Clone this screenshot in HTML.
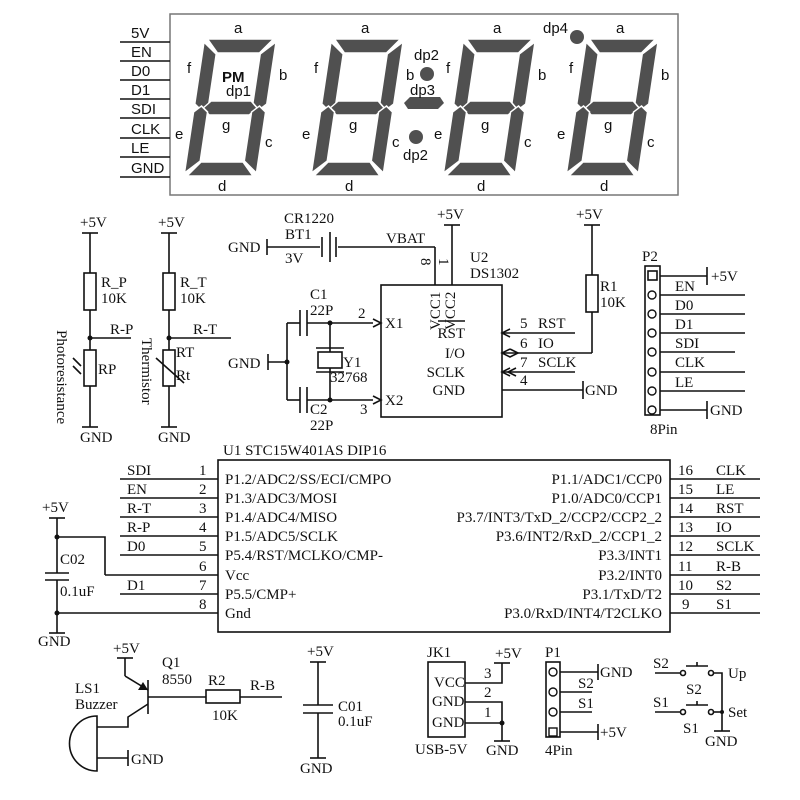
<!DOCTYPE html>
<html><head><meta charset="utf-8"><style>
html,body{margin:0;padding:0;background:#fff;}
svg{display:block;}
.s{font-family:"Liberation Serif",serif;font-size:15px;fill:#111;}
.a{font-family:"Liberation Sans",sans-serif;font-size:15px;fill:#111;}
line,polyline,path,rect.w,circle.w{stroke:#111;stroke-width:1.6;fill:none;}
</style></head><body>
<svg width="800" height="800" viewBox="0 0 800 800" xmlns="http://www.w3.org/2000/svg">
<defs>
<g id="dg" fill="#505050" stroke="#fff" stroke-width="1.5">
<polygon points="3,-137 69,-137 57,-123 15,-123"/>
<polygon points="72,-134 72,-72 65,-66 58,-72 58,-122"/>
<polygon points="0,-134 14,-122 14,-72 7,-66 0,-72"/>
<polygon points="9,-68 16,-75 56,-75 63,-68 56,-61 16,-61"/>
<polygon points="0,-64 7,-70 14,-64 14,-15 0,-3"/>
<polygon points="72,-64 65,-70 58,-64 58,-15 72,-3"/>
<polygon points="3,0 15,-14 57,-14 69,0"/>
</g>
<g id="lb" class="a">
<text x="50" y="33">a</text><text x="3" y="73">f</text><text x="95" y="80">b</text>
<text x="38" y="130">g</text><text x="-9" y="139">e</text><text x="81" y="147">c</text><text x="34" y="191">d</text>
</g>
</defs>

<!-- top display -->
<rect x="170" y="14" width="508" height="181" fill="none" stroke="#777" stroke-width="1.5"/>
<g stroke="#555" stroke-width="1.2">
<line x1="120" y1="42" x2="170" y2="42"/><line x1="120" y1="61" x2="170" y2="61"/><line x1="120" y1="80" x2="170" y2="80"/><line x1="120" y1="99" x2="170" y2="99"/><line x1="120" y1="118" x2="170" y2="118"/><line x1="120" y1="138" x2="170" y2="138"/><line x1="120" y1="157" x2="170" y2="157"/><line x1="120" y1="177" x2="170" y2="177"/>
</g>
<g class="a" font-size="14">
<text x="131" y="38">5V</text><text x="131" y="57">EN</text><text x="131" y="76">D0</text><text x="131" y="95">D1</text><text x="131" y="114">SDI</text><text x="131" y="134">CLK</text><text x="131" y="153">LE</text><text x="131" y="173">GND</text>
</g>
<use href="#dg" transform="translate(184,176) skewX(-8.5)"/>
<use href="#dg" transform="translate(311,176) skewX(-8.5)"/>
<use href="#dg" transform="translate(443,176) skewX(-8.5)"/>
<use href="#dg" transform="translate(566,176) skewX(-8.5)"/>
<use href="#lb" transform="translate(184,0)"/>
<use href="#lb" transform="translate(311,0)"/>
<use href="#lb" transform="translate(443,0)"/>
<use href="#lb" transform="translate(566,0)"/>
<text class="a" x="222" y="82" font-weight="bold" font-size="16" fill="#505050">PM</text>
<text class="a" x="226" y="96" font-size="12">dp1</text>
<circle cx="427" cy="74" r="7" fill="#505050"/>
<text class="a" x="414" y="60" font-size="12">dp2</text>
<polygon points="404,103 410,97 440,97 444,103 438,109 408,109" fill="#505050"/>
<text class="a" x="410" y="95" font-size="12">dp3</text>
<circle cx="416" cy="137" r="7" fill="#505050"/>
<text class="a" x="403" y="160" font-size="12">dp2</text>
<circle cx="577" cy="37" r="7" fill="#505050"/>
<text class="a" x="543" y="33" font-size="12">dp4</text>

<!-- photoresistor / thermistor -->
<line x1="82" y1="233" x2="98" y2="233"/><line x1="90" y1="233" x2="90" y2="273"/>
<rect class="w" x="84" y="273" width="12" height="37"/>
<line x1="90" y1="310" x2="90" y2="350"/><line x1="90" y1="338" x2="131" y2="338"/><circle cx="90" cy="338" r="2.5" fill="#111"/>
<rect class="w" x="84" y="350" width="12" height="36"/>
<line x1="90" y1="386" x2="90" y2="427"/><line x1="82" y1="427" x2="98" y2="427"/>
<line x1="73" y1="358" x2="81" y2="366"/><line x1="73" y1="366" x2="81" y2="374"/>
<text class="s" x="80" y="227">+5V</text><text class="s" x="101" y="287">R_P</text><text class="s" x="101" y="303">10K</text>
<text class="s" x="110" y="334">R-P</text><text class="s" x="98" y="374">RP</text><text class="s" x="80" y="442">GND</text>
<text class="s" transform="translate(57,330) rotate(90)">Photoresistance</text>
<line x1="161" y1="233" x2="177" y2="233"/><line x1="169" y1="233" x2="169" y2="273"/>
<rect class="w" x="163" y="273" width="12" height="37"/>
<line x1="169" y1="310" x2="169" y2="350"/><line x1="169" y1="338" x2="231" y2="338"/><circle cx="169" cy="338" r="2.5" fill="#111"/>
<rect class="w" x="163" y="350" width="12" height="36"/>
<line x1="156" y1="358" x2="184" y2="383"/>
<line x1="169" y1="386" x2="169" y2="427"/><line x1="161" y1="427" x2="177" y2="427"/>
<text class="s" x="158" y="227">+5V</text><text class="s" x="180" y="287">R_T</text><text class="s" x="180" y="303">10K</text>
<text class="s" x="193" y="334">R-T</text><text class="s" x="176" y="357">RT</text><text class="s" x="176" y="380" font-size="11">Rt</text><text class="s" x="158" y="442">GND</text>
<text class="s" transform="translate(142,338) rotate(90)">Thermistor</text>

<!-- battery and DS1302 -->
<text class="s" x="228" y="252">GND</text>
<line x1="267" y1="239" x2="267" y2="255"/><line x1="267" y1="247" x2="320" y2="247"/>
<line x1="322" y1="237" x2="322" y2="257"/><line x1="330" y1="232" x2="330" y2="262" stroke-width="2"/><line x1="336" y1="237" x2="336" y2="257"/>
<line x1="338" y1="247" x2="435" y2="247"/><line x1="435" y1="247" x2="435" y2="285"/>
<text class="s" x="284" y="223">CR1220</text><text class="s" x="285" y="239">BT1</text><text class="s" x="285" y="263">3V</text><text class="s" x="386" y="243">VBAT</text>
<line x1="444" y1="225" x2="460" y2="225"/><line x1="452" y1="225" x2="452" y2="285"/>
<text class="s" x="437" y="219">+5V</text>
<text class="s" transform="translate(421,258) rotate(90)" font-size="13">8</text>
<text class="s" transform="translate(439,258) rotate(90)" font-size="13">1</text>
<rect class="w" x="381" y="285" width="121" height="132"/>
<text class="s" x="470" y="262">U2</text><text class="s" x="470" y="278">DS1302</text>
<text class="s" transform="translate(440,330) rotate(-90)">VCC1</text>
<text class="s" transform="translate(455,330) rotate(-90)">VCC2</text>
<line x1="330" y1="323" x2="373" y2="323"/><polyline points="373,319 381,323 373,327" fill="none"/>
<line x1="330" y1="400" x2="373" y2="400"/><polyline points="373,396 381,400 373,404" fill="none"/>
<text class="s" x="385" y="328">X1</text><text class="s" x="385" y="405">X2</text>
<text class="s" x="358" y="318">2</text><text class="s" x="360" y="414">3</text>
<line x1="287" y1="323" x2="300" y2="323"/><line x1="300" y1="310" x2="300" y2="336"/><line x1="307" y1="310" x2="307" y2="336"/><line x1="307" y1="323" x2="330" y2="323"/>
<line x1="287" y1="400" x2="300" y2="400"/><line x1="300" y1="387" x2="300" y2="413"/><line x1="307" y1="387" x2="307" y2="413"/><line x1="307" y1="400" x2="330" y2="400"/>
<line x1="287" y1="323" x2="287" y2="400"/>
<line x1="330" y1="323" x2="330" y2="400"/>
<circle cx="330" cy="323" r="2.5" fill="#111"/><circle cx="330" cy="400" r="2.5" fill="#111"/><circle cx="287" cy="362" r="2.5" fill="#111"/>
<rect x="318" y="352" width="24" height="16" fill="#fff" stroke="#111" stroke-width="1.6"/>
<line x1="316" y1="348" x2="344" y2="348"/><line x1="316" y1="372" x2="344" y2="372"/>
<text class="s" x="228" y="368">GND</text><line x1="268" y1="354" x2="268" y2="370"/><line x1="268" y1="362" x2="287" y2="362"/>
<text class="s" x="310" y="299">C1</text><text class="s" x="310" y="315">22P</text>
<text class="s" x="310" y="414">C2</text><text class="s" x="310" y="430">22P</text>
<text class="s" x="343" y="367">Y1</text><text class="s" x="330" y="382">32768</text>
<line x1="438" y1="321" x2="465" y2="321" stroke-width="1.2"/>
<text class="s" x="465" y="338" text-anchor="end">RST</text><text class="s" x="465" y="358" text-anchor="end">I/O</text>
<text class="s" x="465" y="377" text-anchor="end">SCLK</text><text class="s" x="465" y="395" text-anchor="end">GND</text>
<line x1="502" y1="333" x2="575" y2="333"/><polyline points="510,329 502,333 510,337" fill="none"/>
<line x1="502" y1="353" x2="592" y2="353"/><polyline points="510,349 502,353 510,357 518,353 510,349" fill="none"/>
<line x1="502" y1="372" x2="575" y2="372"/><polyline points="510,368 502,372 510,376" fill="none"/><polyline points="516,368 508,372 516,376" fill="none"/>
<line x1="502" y1="390" x2="583" y2="390"/><line x1="583" y1="381" x2="583" y2="399"/>
<text class="s" x="520" y="328">5</text><text class="s" x="538" y="328">RST</text>
<text class="s" x="520" y="348">6</text><text class="s" x="538" y="348">IO</text>
<text class="s" x="520" y="367">7</text><text class="s" x="538" y="367">SCLK</text>
<text class="s" x="520" y="385">4</text><text class="s" x="585" y="395">GND</text>
<line x1="584" y1="225" x2="600" y2="225"/><line x1="592" y1="225" x2="592" y2="275"/>
<rect class="w" x="586" y="275" width="12" height="37"/><line x1="592" y1="312" x2="592" y2="353"/>
<text class="s" x="576" y="219">+5V</text><text class="s" x="600" y="291">R1</text><text class="s" x="600" y="307">10K</text>

<!-- P2 -->
<rect class="w" x="645" y="266" width="15" height="149"/>
<rect class="w" x="648" y="271" width="9" height="9"/>
<g fill="none" stroke="#111" stroke-width="1.4">
<circle cx="652" cy="295" r="4"/><circle cx="652" cy="314" r="4"/><circle cx="652" cy="333" r="4"/><circle cx="652" cy="352" r="4"/><circle cx="652" cy="372" r="4"/><circle cx="652" cy="391" r="4"/><circle cx="652" cy="410" r="4"/>
</g>
<line x1="660" y1="276" x2="707" y2="276"/><line x1="707" y1="267" x2="707" y2="285"/>
<line x1="660" y1="295" x2="745" y2="295"/><line x1="660" y1="314" x2="745" y2="314"/><line x1="660" y1="333" x2="745" y2="333"/>
<line x1="660" y1="352" x2="735" y2="352"/><line x1="660" y1="372" x2="745" y2="372"/><line x1="660" y1="391" x2="745" y2="391"/>
<line x1="660" y1="410" x2="707" y2="410"/><line x1="707" y1="401" x2="707" y2="419"/>
<text class="s" x="642" y="261">P2</text><text class="s" x="650" y="434">8Pin</text>
<text class="s" x="711" y="281">+5V</text><text class="s" x="710" y="415">GND</text>
<g class="s"><text x="675" y="291">EN</text><text x="675" y="310">D0</text><text x="675" y="329">D1</text><text x="675" y="348">SDI</text><text x="675" y="367">CLK</text><text x="675" y="387">LE</text></g>

<!-- U1 -->
<text class="s" x="223" y="455">U1  STC15W401AS   DIP16</text>
<rect class="w" x="218" y="460" width="452" height="172"/>
<g class="s" font-size="14">
<text x="225" y="484">P1.2/ADC2/SS/ECI/CMPO</text><text x="225" y="503">P1.3/ADC3/MOSI</text><text x="225" y="522">P1.4/ADC4/MISO</text><text x="225" y="541">P1.5/ADC5/SCLK</text><text x="225" y="560">P5.4/RST/MCLKO/CMP-</text><text x="225" y="580">Vcc</text><text x="225" y="599">P5.5/CMP+</text><text x="225" y="618">Gnd</text>
</g>
<g class="s" font-size="14" text-anchor="end">
<text x="662" y="484">P1.1/ADC1/CCP0</text><text x="662" y="503">P1.0/ADC0/CCP1</text><text x="662" y="522">P3.7/INT3/TxD_2/CCP2/CCP2_2</text><text x="662" y="541">P3.6/INT2/RxD_2/CCP1_2</text><text x="662" y="560">P3.3/INT1</text><text x="662" y="580">P3.2/INT0</text><text x="662" y="599">P3.1/TxD/T2</text><text x="662" y="618">P3.0/RxD/INT4/T2CLKO</text>
</g>
<g>
<line x1="120" y1="479" x2="218" y2="479"/><line x1="120" y1="498" x2="218" y2="498"/><line x1="120" y1="517" x2="218" y2="517"/><line x1="120" y1="536" x2="218" y2="536"/><line x1="120" y1="555" x2="218" y2="555"/>
<line x1="105" y1="575" x2="218" y2="575"/><line x1="120" y1="594" x2="218" y2="594"/><line x1="57" y1="613" x2="218" y2="613"/>
<line x1="670" y1="479" x2="760" y2="479"/><line x1="670" y1="498" x2="760" y2="498"/><line x1="670" y1="517" x2="760" y2="517"/><line x1="670" y1="536" x2="760" y2="536"/><line x1="670" y1="555" x2="760" y2="555"/><line x1="670" y1="575" x2="760" y2="575"/><line x1="670" y1="594" x2="760" y2="594"/><line x1="670" y1="613" x2="760" y2="613"/>
</g>
<g class="s">
<text x="127" y="475">SDI</text><text x="127" y="494">EN</text><text x="127" y="513">R-T</text><text x="127" y="532">R-P</text><text x="127" y="551">D0</text><text x="127" y="590">D1</text>
<text x="199" y="475">1</text><text x="199" y="494">2</text><text x="199" y="513">3</text><text x="199" y="532">4</text><text x="199" y="551">5</text><text x="199" y="571">6</text><text x="199" y="590">7</text><text x="199" y="609">8</text>
<text x="678" y="475">16</text><text x="678" y="494">15</text><text x="678" y="513">14</text><text x="678" y="532">13</text><text x="678" y="551">12</text><text x="678" y="571">11</text><text x="678" y="590">10</text><text x="682" y="609">9</text>
<text x="716" y="475">CLK</text><text x="716" y="494">LE</text><text x="716" y="513">RST</text><text x="716" y="532">IO</text><text x="716" y="551">SCLK</text><text x="716" y="571">R-B</text><text x="716" y="590">S2</text><text x="716" y="609">S1</text>
</g>
<polyline points="105,575 105,537 57,537" fill="none"/>
<line x1="49" y1="518" x2="65" y2="518"/><line x1="57" y1="518" x2="57" y2="573"/>
<line x1="45" y1="573" x2="69" y2="573"/><line x1="45" y1="580" x2="69" y2="580"/>
<line x1="57" y1="580" x2="57" y2="633"/><line x1="49" y1="633" x2="65" y2="633"/>
<circle cx="57" cy="537" r="2.5" fill="#111"/><circle cx="57" cy="613" r="2.5" fill="#111"/>
<text class="s" x="42" y="512">+5V</text><text class="s" x="60" y="564">C02</text><text class="s" x="60" y="596">0.1uF</text><text class="s" x="38" y="646">GND</text>

<!-- buzzer / Q1 -->
<line x1="117" y1="658" x2="133" y2="658"/><line x1="125" y1="658" x2="125" y2="676"/>
<line x1="125" y1="676" x2="148" y2="690"/><polygon points="148,690 138,690 143,682" fill="#111"/>
<line x1="148" y1="680" x2="148" y2="714" stroke-width="2.2"/>
<line x1="148" y1="697" x2="206" y2="697"/>
<rect class="w" x="206" y="690" width="34" height="13"/><line x1="240" y1="697" x2="282" y2="697"/>
<polyline points="148,704 128,717 128,727 97,727" fill="none"/>
<path d="M97,716 A27,27 0 0 0 97,771 Z" fill="none"/>
<line x1="97" y1="758" x2="128" y2="758"/><line x1="128" y1="750" x2="128" y2="766"/>
<text class="s" x="113" y="653">+5V</text><text class="s" x="162" y="667">Q1</text><text class="s" x="162" y="684">8550</text>
<text class="s" x="208" y="685">R2</text><text class="s" x="212" y="720">10K</text><text class="s" x="250" y="690">R-B</text>
<text class="s" x="75" y="693">LS1</text><text class="s" x="75" y="709">Buzzer</text><text class="s" x="131" y="764">GND</text>
<!-- C01 -->
<line x1="310" y1="662" x2="326" y2="662"/><line x1="318" y1="662" x2="318" y2="705"/>
<line x1="303" y1="705" x2="333" y2="705"/><line x1="303" y1="713" x2="333" y2="713"/>
<line x1="318" y1="713" x2="318" y2="758"/><line x1="310" y1="758" x2="326" y2="758"/>
<text class="s" x="307" y="656">+5V</text><text class="s" x="338" y="711">C01</text><text class="s" x="338" y="726">0.1uF</text><text class="s" x="300" y="773">GND</text>
<!-- JK1 -->
<rect class="w" x="428" y="662" width="37" height="75"/>
<g class="s" font-size="10"><text x="434" y="687">VCC</text><text x="432" y="706">GND</text><text x="432" y="727">GND</text></g>
<polyline points="465,683 502,683 502,663" fill="none"/><line x1="494" y1="663" x2="510" y2="663"/>
<polyline points="465,702 502,702 502,741" fill="none"/><line x1="465" y1="723" x2="502" y2="723"/><circle cx="502" cy="723" r="2.5" fill="#111"/>
<line x1="494" y1="741" x2="510" y2="741"/>
<text class="s" x="484" y="678">3</text><text class="s" x="484" y="697">2</text><text class="s" x="484" y="717">1</text>
<text class="s" x="427" y="657">JK1</text><text class="s" x="495" y="658">+5V</text><text class="s" x="415" y="754">USB-5V</text><text class="s" x="486" y="755">GND</text>
<!-- P1 -->
<rect class="w" x="546" y="662" width="14" height="75"/>
<g fill="none" stroke="#111" stroke-width="1.4"><circle cx="553" cy="672" r="4"/><circle cx="553" cy="692" r="4"/><circle cx="553" cy="712" r="4"/><rect x="549" y="728" width="8" height="8"/></g>
<line x1="560" y1="672" x2="598" y2="672"/><line x1="598" y1="664" x2="598" y2="680"/>
<line x1="560" y1="692" x2="592" y2="692"/><line x1="560" y1="712" x2="592" y2="712"/>
<line x1="560" y1="732" x2="598" y2="732"/><line x1="598" y1="724" x2="598" y2="740"/>
<text class="s" x="545" y="657">P1</text><text class="s" x="545" y="755">4Pin</text>
<text class="s" x="600" y="677">GND</text><text class="s" x="578" y="688">S2</text><text class="s" x="578" y="708">S1</text><text class="s" x="600" y="737">+5V</text>
<!-- switches -->
<line x1="655" y1="673" x2="680" y2="673"/><circle class="w" cx="683" cy="673" r="2.5"/><circle class="w" cx="711" cy="673" r="2.5"/>
<line x1="686" y1="666" x2="708" y2="666" stroke-width="3"/><line x1="697" y1="662" x2="697" y2="666"/>
<line x1="655" y1="712" x2="680" y2="712"/><circle class="w" cx="683" cy="712" r="2.5"/><circle class="w" cx="711" cy="712" r="2.5"/>
<line x1="686" y1="705" x2="708" y2="705" stroke-width="3"/><line x1="697" y1="701" x2="697" y2="705"/>
<polyline points="714,673 722,673 722,731" fill="none"/><line x1="714" y1="712" x2="722" y2="712"/>
<line x1="714" y1="731" x2="730" y2="731"/><circle cx="722" cy="712" r="2" fill="#111"/>
<text class="s" x="653" y="668">S2</text><text class="s" x="653" y="707">S1</text>
<text class="s" x="686" y="694">S2</text><text class="s" x="683" y="733">S1</text>
<text class="s" x="728" y="678">Up</text><text class="s" x="728" y="717">Set</text><text class="s" x="705" y="746">GND</text>
</svg>
</body></html>
